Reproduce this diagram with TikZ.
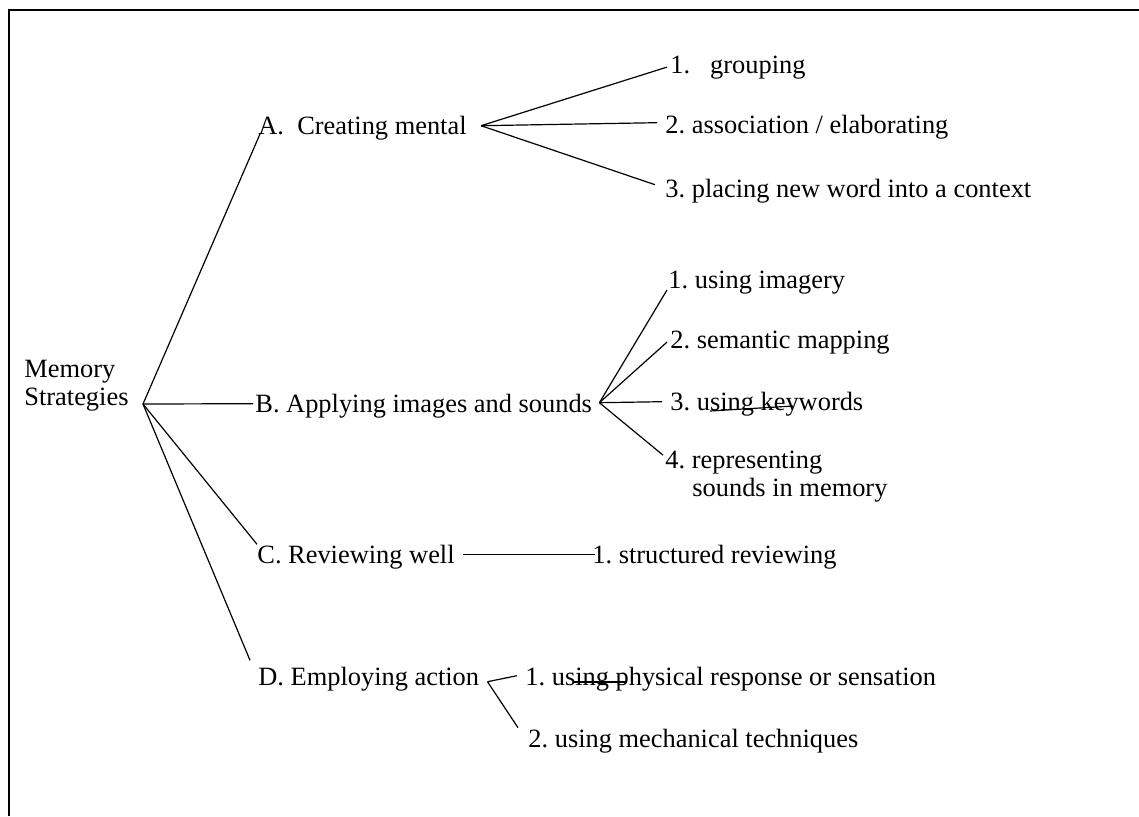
\documentclass[tikz,border=0pt]{standalone}
\usepackage{fontspec}
\setmainfont{Liberation Serif}

\begin{document}
\frenchspacing
\begin{tikzpicture}[x=0.5pt,y=-0.5pt,
        item/.style={anchor=base west,inner sep=0pt,font=\fontsize{13.2}{14}\selectfont},
        branch/.style={line width=0.6pt}]
    \useasboundingbox (0,0) rectangle (1139,816);
    % frame, only top and left edges
    \draw[line width=1pt] (9,816) -- (9,10) -- (1139,10);

    \node[item,anchor=west,align=left] (mem) at (24,386) {Memory\\Strategies};
    \coordinate (memj) at (143,404);

    \node[item] (A) at (258,134) {A.\ \ Creating mental};
    \node[item] (B) at (255,412) {B. Applying images and sounds};
    \node[item] (C) at (257,563) {C. Reviewing well};
    \node[item] (D) at (258,685) {D. Employing action};

    \node[item] (A1) at (670,73) {1.\hspace{10pt}grouping};
    \node[item] (A2) at (665,133) {2. association / elaborating};
    \node[item] (A3) at (665,197) {3. placing new word into a context};

    \node[item] (B1) at (668,288) {1. using imagery};
    \node[item] (B2) at (670,348) {2. semantic mapping};
    \node[item] (B3) at (670,410) {3. using keywords};
    \node[item] (B4) at (665,468) {4. representing};
    \node[item] (B4b) at (692,496) {sounds in memory};

    \node[item] (C1) at (592,563) {1. structured reviewing};

    \node[item] (D1) at (525,685) {1. using physical response or sensation};
    \node[item] (D2) at (528,747) {2. using mechanical techniques};

    % root to letters
    \draw[branch] (memj) -- ([shift={(2,0)}]A.base west);
    \draw[branch] (memj) -- ([shift={(-2,-2)}]B.west);
    \draw[branch] (memj) -- (C.north west);
    \draw[branch] (memj) -- ([shift={(-8,-6)}]D.north west);

    % A
    \coordinate (Aj) at ([shift={(14,-2)}]A.east);
    \draw[branch] (Aj) -- ([shift={(-3,0)}]A1.west);
    \draw[branch] (Aj) -- ([shift={(-8,-4)}]A2.west);
    \draw[branch] (Aj) -- ([shift={(-10,-6)}]A3.west);

    % B
    \coordinate (Bj) at ([shift={(7,-3)}]B.east);
    \draw[branch] (Bj) -- ([shift={(-1,2)}]B1.base west);
    \draw[branch] (Bj) -- ([shift={(-3,0)}]B2.west);
    \draw[branch] (Bj) -- ([shift={(-8,-2)}]B3.west);
    \draw[branch] (Bj) -- ([shift={(-2,-7)}]B4.west);
    \draw[branch] (710,411) -- (793,406);

    % C
    \draw[branch] ([shift={(8,-2)}]C.east) -- ([shift={(3,-2)}]C1.west);

    % D
    \coordinate (Dj) at ([shift={(8,3)}]D.east);
    \draw[branch] (Dj) -- ([shift={(-8,-3)}]D1.west);
    \draw[branch] (Dj) -- ([shift={(-10,-13)}]D2.west);
    \draw[branch] (573,682) -- (627,682);
\end{tikzpicture}
\end{document}
